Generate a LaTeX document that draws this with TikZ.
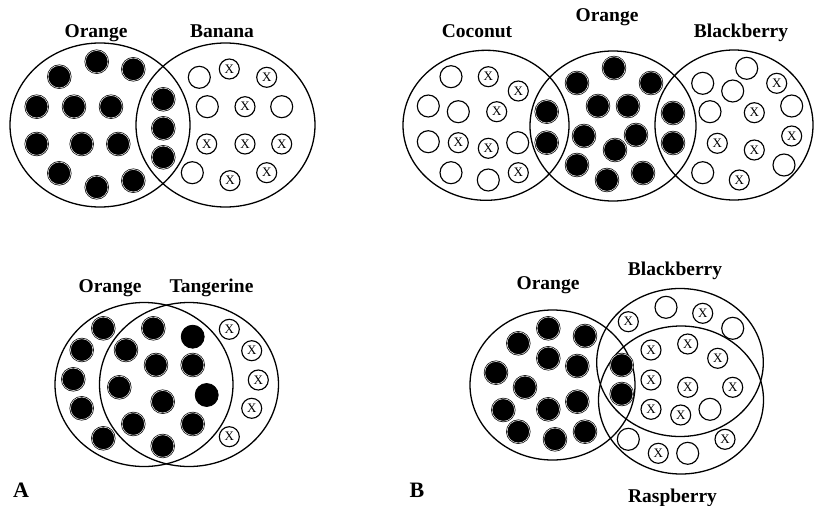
\documentclass[tikz,border=0pt]{standalone}
\usepackage{fontspec}
\setmainfont{Liberation Serif}
\begin{document}
\begin{tikzpicture}[x=1pt,y=-1pt,
  big/.style={line width=1.3pt},
  bdot/.style={circle,minimum size=22.5pt,inner sep=0pt,fill=black,draw=black,double=white,double distance=0.5pt,line width=0.7pt},
  bsolid/.style={circle,minimum size=23pt,inner sep=0pt,fill=black,draw=black,line width=0.8pt},
  edot/.style={circle,minimum size=22pt,inner sep=0pt,fill=white,draw=black,line width=1.15pt},
  xdot/.style={circle,minimum size=20pt,inner sep=0pt,fill=white,draw=black,line width=1.15pt,font=\fontsize{13}{13}\selectfont},
  lab/.style={font=\fontsize{19.5}{22}\selectfont\bfseries,inner sep=0pt,anchor=base},
  panel/.style={font=\fontsize{22}{24}\selectfont\bfseries,inner sep=0pt,anchor=base}
]
\useasboundingbox (0,0) rectangle (814,506);

% ---------- top left ----------
\draw[big] (100,125) ellipse [x radius=90pt, y radius=82pt];
\draw[big] (225.5,125) ellipse [x radius=89.5pt, y radius=82pt];
\node[lab] (tlO) at (96,37) {Orange};
\node[lab] (tlB) at (222,37) {Banana};
\foreach \p [count=\i] in {{96.7,61.7},{59.3,76.7},{133.3,69.3},{36.7,106.7},{74,106.7},{111,106.7},{36.7,144},{81.7,144},{118.3,144},{59.3,173.3},{96.7,187.3},{133.3,180.7},{163.3,99.3},{163.3,128.3},{163.3,157.3}}
  \node[bdot] (tlb\i) at (\p) {};
\foreach \p [count=\i] in {{199.3,77.3},{207.3,106.7},{281.7,106.7},{192.3,172.7}}
  \node[edot] (tle\i) at (\p) {};
\foreach \p [count=\i] in {{229.3,69},{266.7,77.3},{245,106.7},{206.7,144},{245,144},{281.7,144},{230,180.7},{266.7,172.7}}
  \node[xdot] (tlx\i) at (\p) {X};

% ---------- top right ----------
\draw[big] (486,125.3) ellipse [x radius=83pt, y radius=75pt];
\draw[big] (613,126) ellipse [x radius=83pt, y radius=75pt];
\draw[big] (734,125) ellipse [x radius=79pt, y radius=75pt];
\node[lab] (trC) at (477,37) {Coconut};
\node[lab] (trO) at (607,21) {Orange};
\node[lab] (trB) at (741,37) {Blackberry};
\foreach \p [count=\i] in {{546.7,111.7},{546.7,142.7},{614,68},{577,83},{651,83},{598,106},{628,106},{584,136},{636,135},{615,150},{577,165},{643,173},{607,180},{673,113},{673,143}}
  \node[bdot] (trb\i) at (\p) {};
\foreach \p [count=\i] in {{451,76.7},{428.3,106},{458.3,111.7},{428.3,141.7},{517.7,142.7},{451,172.7},{488.3,180},{746.7,68.3},{702.7,83.3},{732.7,91},{710,111.7},{791.7,106},{702.7,172.7},{784,165}}
  \node[edot] (tre\i) at (\p) {};
\foreach \p [count=\i] in {{488.3,76.7},{518.3,91},{496.7,111.7},{458.3,142.7},{488.3,148.3},{518.3,172.7},{776.7,83.3},{754.3,112.7},{717.3,143.3},{754.3,150},{791.7,136},{739.3,180}}
  \node[xdot] (trx\i) at (\p) {X};

% ---------- bottom left ----------
\draw[big] (144,384.5) ellipse [x radius=89pt, y radius=82pt];
\draw[big] (189,384.5) ellipse [x radius=89.5pt, y radius=82pt];
\node[lab] (blO) at (110,292) {Orange};
\node[lab] (blT) at (211.5,292) {Tangerine};
\foreach \p [count=\i] in {{103.3,328.3},{153.3,328.3},{81.7,350},{126,350},{156,365},{192.7,365},{73.3,379.3},{119.3,387.3},{162.7,401.7},{81.7,408.3},{133.3,424},{192.7,424},{103.3,438.3},{162.7,446}}
  \node[bdot] (blb\i) at (\p) {};
\node[bsolid] (bls1) at (192.7,336.7) {};
\node[bsolid] (bls2) at (206.7,395) {};
\foreach \p [count=\i] in {{229.3,329.3},{251.7,350.7},{258.3,380},{251.7,408.3},{229.3,436.7}}
  \node[xdot] (blx\i) at (\p) {X};

% ---------- bottom right ----------
\draw[big] (552.5,385) ellipse [x radius=82.5pt, y radius=75pt];
\draw[big] (680,362.5) ellipse [x radius=83.3pt, y radius=74pt];
\draw[big] (681,400) ellipse [x radius=82.5pt, y radius=74pt];
\node[lab] (brO) at (548,289) {Orange};
\node[lab] (brB) at (675,275) {Blackberry};
\node[lab] (brR) at (672.5,502) {Raspberry};
\foreach \p [count=\i] in {{548.3,328.3},{518.3,343.3},{585,336},{548.3,358.3},{577.3,366},{496,372.7},{525,387.3},{577.3,401.7},{503.3,410},{548.3,409.3},{518.3,431.7},{555,439.3},{585,431.7},{621.7,365},{621.7,394}}
  \node[bdot] (brb\i) at (\p) {};
\foreach \p [count=\i] in {{666,307.3},{732.7,328.3},{710,409.3},{628.3,439.3},{687.7,453.3}}
  \node[edot] (bre\i) at (\p) {};
\foreach \p [count=\i] in {{628.3,321.7},{702.7,313.3},{651,350},{687.7,344},{717.7,358.3},{651,380},{687.7,387.3},{732.7,387.3},{651,409.3},{680.7,415},{658.3,453.3},{725,439.3}}
  \node[xdot] (brx\i) at (\p) {X};

% ---------- panel letters ----------
\node[panel] (pA) at (21,497) {A};
\node[panel] (pB) at (417,497) {B};
\end{tikzpicture}
\end{document}
